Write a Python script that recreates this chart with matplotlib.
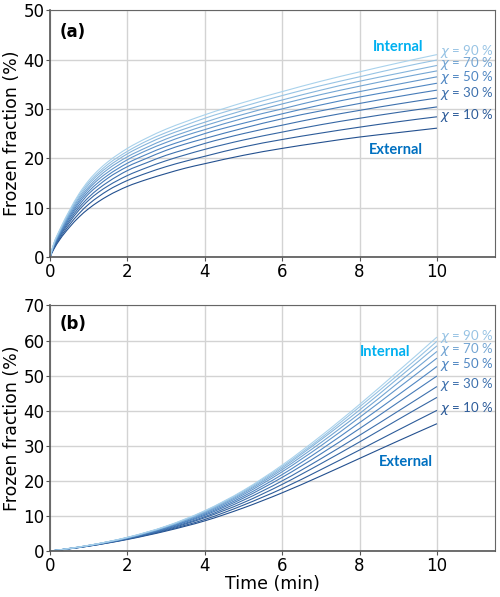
import matplotlib
matplotlib.use("Agg")
import matplotlib.pyplot as plt
from matplotlib.colors import LinearSegmentedColormap
from matplotlib.path import Path
from matplotlib.patches import PathPatch

# ---- data ----
chi_levels = [0, 10, 20, 30, 40, 50, 60, 70, 80, 90, 100]

time_a = [0, 0.1, 0.25, 0.5, 0.75, 1, 1.25, 1.5, 2, 2.5, 3, 3.5, 4, 5, 6, 7, 8, 9, 10]
frozen_a = [
    [0, 1.6, 3.5, 6.0, 8.1, 9.8, 11.2, 12.4, 14.3, 15.7, 16.9, 18.0, 18.9, 20.6, 22.0, 23.2, 24.3, 25.2, 26.1],
    [0, 1.8, 3.8, 6.5, 8.8, 10.7, 12.2, 13.5, 15.5, 17.0, 18.3, 19.4, 20.4, 22.3, 23.8, 25.1, 26.3, 27.4, 28.4],
    [0, 1.9, 4.1, 7.0, 9.5, 11.5, 13.1, 14.4, 16.5, 18.1, 19.5, 20.7, 21.8, 23.7, 25.3, 26.8, 28.1, 29.3, 30.4],
    [0, 2.1, 4.3, 7.4, 10.0, 12.1, 13.8, 15.2, 17.5, 19.1, 20.6, 21.8, 23.0, 25.0, 26.7, 28.3, 29.7, 31.0, 32.2],
    [0, 2.2, 4.5, 7.8, 10.5, 12.8, 14.5, 16.0, 18.3, 20.0, 21.6, 22.9, 24.0, 26.1, 28.0, 29.6, 31.1, 32.5, 33.8],
    [0, 2.3, 4.7, 8.1, 11.0, 13.3, 15.1, 16.6, 19.0, 20.8, 22.4, 23.7, 25.0, 27.1, 29.0, 30.8, 32.4, 33.8, 35.2],
    [0, 2.4, 4.9, 8.4, 11.4, 13.8, 15.7, 17.2, 19.7, 21.6, 23.2, 24.6, 25.8, 28.1, 30.0, 31.9, 33.5, 35.0, 36.5],
    [0, 2.5, 5.1, 8.7, 11.8, 14.2, 16.2, 17.8, 20.3, 22.2, 23.9, 25.3, 26.6, 28.9, 31.0, 32.9, 34.6, 36.2, 37.7],
    [0, 2.6, 5.2, 8.9, 12.1, 14.7, 16.7, 18.3, 20.9, 22.9, 24.6, 26.0, 27.3, 29.7, 31.8, 33.8, 35.6, 37.2, 38.8],
    [0, 2.7, 5.4, 9.2, 12.5, 15.1, 17.1, 18.8, 21.4, 23.5, 25.2, 26.7, 28.1, 30.5, 32.7, 34.7, 36.5, 38.3, 39.9],
    [0, 2.8, 5.5, 9.4, 12.8, 15.5, 17.6, 19.3, 22.0, 24.1, 25.9, 27.4, 28.8, 31.3, 33.5, 35.6, 37.5, 39.3, 41.0],
]

time_b = [0, 1, 2, 3, 4, 5, 6, 7, 8, 9, 10]
frozen_b = [
    [0, 1.4, 3.3, 5.7, 8.6, 12.3, 16.6, 21.4, 26.4, 31.4, 36.3],
    [0, 1.4, 3.4, 5.9, 9.0, 13.1, 17.8, 23.2, 28.8, 34.5, 40.1],
    [0, 1.5, 3.5, 6.1, 9.5, 13.8, 19.0, 24.9, 31.1, 37.5, 43.8],
    [0, 1.5, 3.6, 6.3, 9.8, 14.5, 20.0, 26.3, 33.0, 39.9, 46.9],
    [0, 1.5, 3.6, 6.5, 10.2, 15.1, 21.0, 27.7, 34.9, 42.4, 49.9],
    [0, 1.5, 3.7, 6.6, 10.5, 15.6, 21.8, 28.9, 36.6, 44.5, 52.6],
    [0, 1.6, 3.8, 6.8, 10.8, 16.1, 22.6, 30.0, 38.1, 46.5, 55.0],
    [0, 1.6, 3.8, 6.9, 11.0, 16.5, 23.2, 30.9, 39.2, 48.0, 56.9],
    [0, 1.6, 3.8, 7.0, 11.2, 16.8, 23.7, 31.7, 40.2, 49.3, 58.5],
    [0, 1.6, 3.9, 7.0, 11.4, 17.1, 24.1, 32.2, 41.1, 50.3, 59.8],
    [0, 1.6, 3.9, 7.1, 11.5, 17.3, 24.5, 32.8, 41.8, 51.3, 61.0],
]

label_chis = [10, 30, 50, 70, 90]
label_y_a = [28.7, 33.1, 36.4, 39.1, 41.7]
label_y_b = [40.7, 47.6, 53.3, 57.5, 61.1]

xticks = [0, 2, 4, 6, 8, 10]


def smooth_path(xs, ys):
    """Cubic Bezier path passing through every data point (rendering only)."""
    n = len(xs)
    h = [xs[i + 1] - xs[i] for i in range(n - 1)]
    d = [(ys[i + 1] - ys[i]) / h[i] for i in range(n - 1)]
    m = [0.0] * n
    for i in range(1, n - 1):
        m[i] = (d[i - 1] * h[i] + d[i] * h[i - 1]) / (h[i - 1] + h[i])
    m[0] = ((2 * h[0] + h[1]) * d[0] - h[0] * d[1]) / (h[0] + h[1])
    m[-1] = ((2 * h[-1] + h[-2]) * d[-1] - h[-1] * d[-2]) / (h[-1] + h[-2])
    verts = [(xs[0], ys[0])]
    codes = [Path.MOVETO]
    for i in range(n - 1):
        c1 = (xs[i] + h[i] / 3, ys[i] + m[i] * h[i] / 3)
        c2 = (xs[i + 1] - h[i] / 3, ys[i + 1] - m[i + 1] * h[i] / 3)
        verts += [c1, c2, (xs[i + 1], ys[i + 1])]
        codes += [Path.CURVE4] * 3
    return Path(verts, codes)


# ---- figure ----
fig = plt.figure(figsize=(5.0, 5.97), dpi=100)
ax_a = fig.add_axes([0.100, 0.5695, 0.890, 0.4135])
ax_b = fig.add_axes([0.100, 0.0770, 0.890, 0.4113])

cmap = LinearSegmentedColormap.from_list("bl", ["#23508f", "#4f86c2", "#a9d2ec"])
n = len(chi_levels)
colors = [cmap(i / (n - 1)) for i in range(n)]


def style(ax, ylim, yticks):
    ax.set_xlim(0, 11.5)
    ax.set_ylim(*ylim)
    ax.set_xticks(xticks)
    ax.set_yticks(yticks)
    ax.grid(True, color="#d3d3d3", linewidth=1.0)
    ax.set_axisbelow(True)
    ax.tick_params(labelsize=12, length=3, color="#555555", pad=1)
    for s in ["top", "right"]:
        ax.spines[s].set_color("#666666")
    for s in ["left", "bottom"]:
        ax.spines[s].set_color("#555555")
        ax.spines[s].set_linewidth(1.2)
    ax.set_ylabel("Frozen fraction (%)", fontsize=12.5, labelpad=2)


for ax, tt, series in [(ax_a, time_a, frozen_a), (ax_b, time_b, frozen_b)]:
    for i in range(n):
        patch = PathPatch(smooth_path(tt, series[i]), facecolor="none",
                          edgecolor=colors[i], lw=0.8, zorder=2)
        ax.add_patch(patch)

style(ax_a, (0, 50), [0, 10, 20, 30, 40, 50])
style(ax_b, (0, 70), [0, 10, 20, 30, 40, 50, 60, 70])
ax_b.set_xlabel("Time (min)", fontsize=12.5, labelpad=0)

ax_a.text(0.25, 45.6, "(a)", fontsize=12, fontweight="bold", va="center")
ax_b.text(0.25, 64.6, "(b)", fontsize=12, fontweight="bold", va="center")

int_col = "#00B0F0"
ext_col = "#0070C0"
lab_kw = dict(fontsize=10.5, fontweight="bold", ha="center", va="center", family="Lato")
ax_a.text(9.0, 42.6, "Internal", color=int_col, **lab_kw)
ax_a.text(8.95, 21.6, "External", color=ext_col, **lab_kw)
ax_b.text(8.66, 56.7, "Internal", color=int_col, **lab_kw)
ax_b.text(9.2, 25.3, "External", color=ext_col, **lab_kw)

for ax, ys in [(ax_a, label_y_a), (ax_b, label_y_b)]:
    for chi, y in zip(label_chis, ys):
        c = colors[chi_levels.index(chi)]
        ax.text(10.07, y, r"$\chi$" + " = %d %%" % chi, color=c, fontsize=9.5,
                ha="left", va="center", family="Lato")

fig.savefig("out.png", dpi=100)
